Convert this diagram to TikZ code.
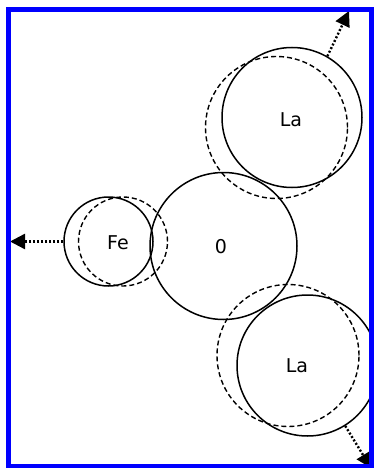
\documentclass[tikz,border=0pt]{standalone}
\usepackage{fontspec}
\setmainfont{DejaVu Sans}
\usetikzlibrary{arrows.meta}
\begin{document}
\begin{tikzpicture}[x=1pt,y=-1pt,
  atom/.style={circle,draw=black,line width=1.5pt,inner sep=0pt,minimum size=#1},
  ghost/.style={circle,draw=black,line width=1.4pt,dash pattern=on 5pt off 3pt,inner sep=0pt,minimum size=#1},
  lbl/.style={inner sep=0pt,font=\fontsize{19}{21}\selectfont},
  move/.style={line width=2.4pt,dash pattern=on 2pt off 2pt,-{Triangle[length=15pt,width=15pt]}}]
\useasboundingbox (0,0) rectangle (374,468);
% oxygen
\node[atom=147pt] (O) at (223.5,246) {};
\node[lbl] (Ol) at (221,247) {0};
% iron
\node[ghost=89pt] (fed) at (123,241.5) {};
\node[atom=89pt] (fe) at (108.5,241.5) {};
\node[lbl] (fel) at (118,243) {Fe};
% lanthanum top
\node[ghost=142pt] (la1d) at (276.5,127.5) {};
\node[atom=140pt] (la1) at (292,117.5) {};
\node[lbl] (la1l) at (291,120) {La};
% lanthanum bottom
\node[ghost=142pt] (la2d) at (288,355.5) {};
\node[atom=141pt] (la2) at (307.5,365.5) {};
\node[lbl] (la2l) at (297,366) {La};
% displacement arrows
\coordinate (feTip) at (10,241.5);
\coordinate (la1Tip) at (349,11);
\coordinate (la2Tip) at (371,468);
\draw[move] (fe.west) -- (feTip);
\draw[move] (la1.60) -- (la1Tip);
\draw[move] (la2.-58) -- (la2Tip);
% frame
\fill[white] (371,0) rectangle (374,468);
\draw[blue,line width=5pt] (8.5,10) rectangle (371,466.5);
\end{tikzpicture}
\end{document}
